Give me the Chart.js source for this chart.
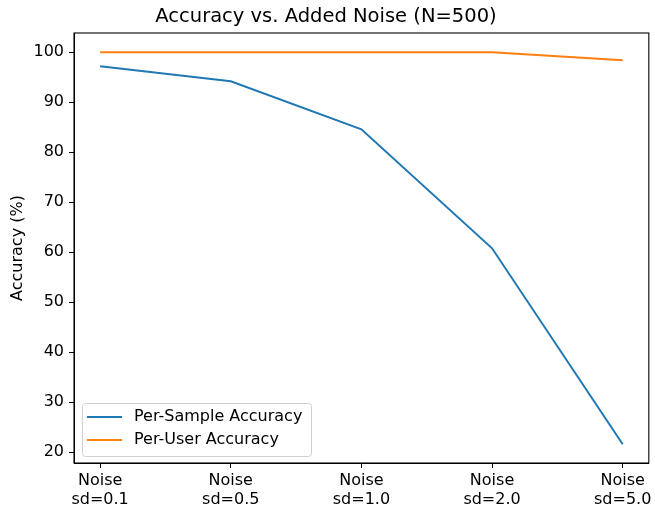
<!DOCTYPE html>
<html>
<head>
<meta charset="utf-8">
<script src="https://cdn.jsdelivr.net/npm/chart.js@4.4.1/dist/chart.umd.min.js"></script>
<style>
  html, body { margin: 0; padding: 0; background: #fff; }
  canvas { display: block; }
</style>
</head>
<body>
<canvas id="noise-chart" width="655" height="512"></canvas>
<script>
// data
var categories = [
  ["Noise", "sd=0.1"],
  ["Noise", "sd=0.5"],
  ["Noise", "sd=1.0"],
  ["Noise", "sd=2.0"],
  ["Noise", "sd=5.0"]
];
var perSample = [97.2, 94.2, 84.6, 60.8, 21.6];
var perUser = [100, 100, 100, 100, 98.4];
var yTicks = [20, 30, 40, 50, 60, 70, 80, 90, 100];
var seriesNames = ["Per-Sample Accuracy", "Per-User Accuracy"];

var fam = '"DejaVu Sans", sans-serif';

function pts(arr) {
  return arr.map(function (v, i) { return { x: i, y: v }; });
}

// box around plot area + legend inside lower-left corner
var frame = {
  id: "frame",
  afterDraw: function (chart) {
    var c = chart.ctx, a = chart.chartArea;
    c.save();
    c.strokeStyle = "#000";
    c.lineWidth = 1.1;
    c.strokeRect(a.left, a.top, a.right - a.left, a.bottom - a.top);

    var lx = a.left + 8, ly = a.bottom - 60, lw = 229, lh = 53;
    c.fillStyle = "rgba(255,255,255,0.8)";
    c.strokeStyle = "#d0d0d0";
    c.lineWidth = 1;
    c.beginPath();
    c.roundRect(lx + 0.5, ly + 0.5, lw, lh, 3);
    c.fill();
    c.stroke();
    c.font = "16px " + fam;
    c.textBaseline = "middle";
    chart.data.datasets.forEach(function (d, i) {
      var yy = ly + 14 + i * 23;
      c.strokeStyle = d.borderColor;
      c.lineWidth = 2;
      c.beginPath();
      c.moveTo(lx + 5, yy);
      c.lineTo(lx + 40, yy);
      c.stroke();
      c.fillStyle = "#000";
      c.fillText(d.label, lx + 52, yy);
    });
    c.restore();
  }
};

new Chart(document.getElementById("noise-chart"), {
  type: "line",
  data: {
    datasets: [
      { label: seriesNames[0], data: pts(perSample), borderColor: "#1f77b4", backgroundColor: "#1f77b4", borderWidth: 2, pointRadius: 0, tension: 0 },
      { label: seriesNames[1], data: pts(perUser), borderColor: "#ff7f0e", backgroundColor: "#ff7f0e", borderWidth: 2, pointRadius: 0, tension: 0 }
    ]
  },
  options: {
    responsive: false,
    animation: false,
    layout: { padding: { left: 0, right: 3, top: 0, bottom: 0 } },
    plugins: {
      legend: { display: false },
      tooltip: { enabled: false },
      title: {
        display: true,
        text: "Accuracy vs. Added Noise (N=500)",
        color: "#000",
        font: { family: fam, size: 19.5, weight: "normal" },
        padding: { top: 5.3, bottom: 4.3 }
      }
    },
    scales: {
      x: {
        type: "linear",
        min: -0.2,
        max: 4.2,
        afterBuildTicks: function (s) {
          s.ticks = categories.map(function (_, i) { return { value: i }; });
        },
        afterFit: function (s) { s.height = 49; },
        grid: { drawOnChartArea: false, tickLength: 5, color: "#000" },
        border: { color: "#000", width: 1 },
        ticks: {
          color: "#000",
          font: { family: fam, size: 16 },
          padding: 3.5,
          maxRotation: 0,
          callback: function (v) { return categories[v]; }
        }
      },
      y: {
        min: 17.86,
        max: 103.86,
        afterBuildTicks: function (s) {
          s.ticks = yTicks.map(function (v) { return { value: v }; });
        },
        afterFit: function (s) { s.width = 74; },
        grid: { drawOnChartArea: false, tickLength: 5, color: "#000" },
        border: { color: "#000", width: 1 },
        title: {
          display: true,
          text: "Accuracy (%)",
          color: "#000",
          font: { family: fam, size: 16 },
          padding: { top: 8, bottom: 0 }
        },
        ticks: {
          color: "#000",
          font: { family: fam, size: 16 },
          padding: 5
        }
      }
    }
  },
  plugins: [frame]
});
</script>
</body>
</html>
